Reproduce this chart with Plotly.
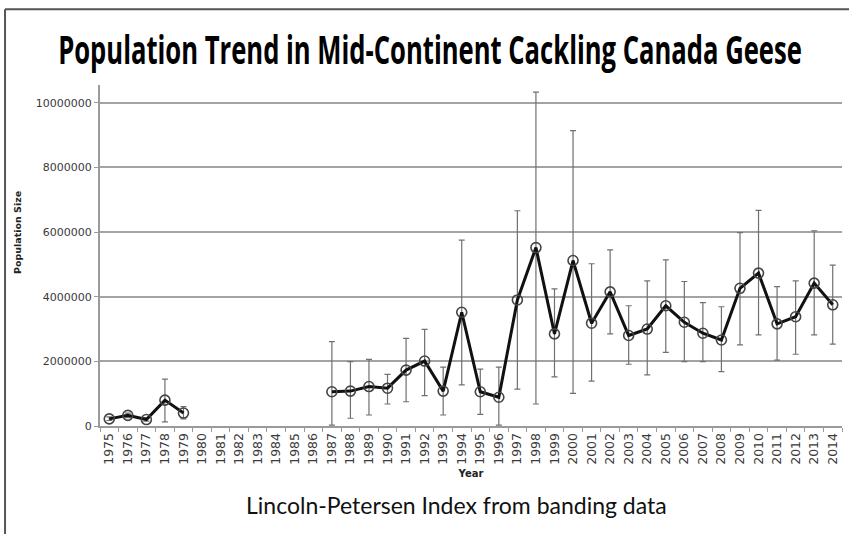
import plotly.graph_objects as go

# Survey years shown on the category axis
years = [str(y) for y in range(1975, 2015)]

# Lincoln-Petersen population estimates (None = no estimate that year)
population = [
    220000, 330000, 200000, 800000, 400000,
    None, None, None, None, None, None, None,
    1060000, 1080000, 1220000, 1170000, 1730000, 2010000, 1080000, 3520000,
    1060000, 890000, 3900000, 5520000, 2850000, 5120000, 3180000, 4150000,
    2800000, 3000000, 3720000, 3210000, 2870000, 2660000, 4260000, 4730000,
    3160000, 3380000, 4420000, 3750000,
]

# Upper and lower confidence limits
upper = [
    280000, 400000, 260000, 1450000, 600000,
    None, None, None, None, None, None, None,
    2610000, 1990000, 2060000, 1600000, 2710000, 2990000, 1820000, 5750000,
    1760000, 1820000, 6660000, 10330000, 4240000, 9140000, 5020000, 5450000,
    3720000, 4490000, 5140000, 4470000, 3820000, 3690000, 5980000, 6670000,
    4310000, 4490000, 6040000, 4980000,
]
lower = [
    170000, 260000, 150000, 130000, 220000,
    None, None, None, None, None, None, None,
    30000, 240000, 340000, 680000, 750000, 940000, 340000, 1270000,
    360000, 30000, 1140000, 680000, 1520000, 1010000, 1390000, 2850000,
    1910000, 1580000, 2280000, 1990000, 1990000, 1680000, 2510000, 2820000,
    2040000, 2220000, 2820000, 2530000,
]

err_plus = [None if p is None else u - p for p, u in zip(population, upper)]
err_minus = [None if p is None else p - l for p, l in zip(population, lower)]

y_ticks = [0, 2000000, 4000000, 6000000, 8000000, 10000000]

fig = go.Figure()
fig.add_trace(go.Scatter(
    x=years,
    y=population,
    mode="lines+markers",
    connectgaps=False,
    line=dict(color="#111111", width=3),
    marker=dict(symbol="circle-open", size=10, color="#444444",
                line=dict(width=1.6, color="#444444")),
    error_y=dict(type="data", symmetric=False, array=err_plus,
                 arrayminus=err_minus, color="#707070", thickness=1.2, width=3),
    showlegend=False,
))

tick_font = dict(family="DejaVu Sans, Verdana, Arial", size=11, color="#3a3a3a")
x_tick_font = dict(family="DejaVu Sans, Verdana, Arial", size=12.5, color="#3a3a3a")

fig.update_layout(
    width=849,
    height=534,
    paper_bgcolor="white",
    plot_bgcolor="white",
    margin=dict(l=100, r=7, t=85, b=108),
    title=dict(
        text="Population Trend in Mid-Continent Cackling Canada Geese",
        font=dict(family="Open Sans, Roboto, Arial", size=40, weight=700, color="#000000"),
        x=430 / 849, xanchor="center", y=1 - 50 / 534, yanchor="middle",
    ),
    xaxis=dict(
        type="category",
        categoryorder="array",
        categoryarray=years,
        tickmode="array",
        tickvals=years,
        ticktext=years,
        tickangle=-90,
        tickfont=x_tick_font,
        tickson="boundaries",
        ticks="outside",
        ticklen=4,
        tickcolor="#9a9a9a",
        showline=True,
        linecolor="#9a9a9a",
        linewidth=2,
        showgrid=False,
        range=[-0.5, len(years) - 0.5],
        title=dict(text="<b>Year</b>", font=dict(family="DejaVu Sans, Arial", size=10, color="#222222"), standoff=6),
    ),
    yaxis=dict(
        range=[0, 10550000],
        tickmode="array",
        tickvals=y_ticks,
        ticktext=[str(v) for v in y_ticks],
        tickfont=tick_font,
        ticks="outside",
        ticklen=4,
        tickcolor="#9a9a9a",
        showline=True,
        linecolor="#9a9a9a",
        linewidth=2,
        showgrid=True,
        gridcolor="#a3a3a3",
        gridwidth=1.5,
        zeroline=False,
    ),
    annotations=[
        dict(
            text="<b>Population Size</b>",
            xref="paper", yref="paper", x=-0.1105, y=0.566,
            xanchor="center", yanchor="middle", textangle=-90, showarrow=False,
            font=dict(family="DejaVu Sans, Arial", size=9.5, color="#222222"),
        ),
        dict(
            text="Lincoln-Petersen Index from banding data",
            xref="paper", yref="paper", x=0.481, y=-0.2317,
            xanchor="center", yanchor="middle", showarrow=False,
            font=dict(family="Lato, Open Sans, Arial", size=23, color="#111111"),
        ),
    ],
    shapes=[
        # outer frame: left and top edges
        dict(type="line", xref="paper", yref="paper", x0=-0.128, x1=-0.128, y0=1.222, y1=-0.33,
             line=dict(color="#555555", width=2)),
        dict(type="line", xref="paper", yref="paper", x0=-0.128, x1=1.02, y0=1.222, y1=1.222,
             line=dict(color="#555555", width=2)),
    ],
)

# The headline is set in a condensed style: scale the title horizontally
# about its centre so it spans 744 px.
condense_title = """
var gd = document.getElementById('{plot_id}');
function condense() {
  var t = gd.querySelector('.gtitle');
  if (!t) return;
  if (t.getAttribute('data-base-transform') === null) {
    t.setAttribute('data-base-transform', t.getAttribute('transform') || '');
  }
  var base = t.getAttribute('data-base-transform');
  t.setAttribute('transform', base);
  var w = t.getBBox().width;
  var cx = parseFloat(t.getAttribute('x')) || 0;
  if (w > 0) {
    var s = 744 / w;
    t.setAttribute('transform', base + ' translate(' + cx + ',0) scale(' + s + ',1) translate(' + (-cx) + ',0)');
  }
}
condense();
gd.on('plotly_afterplot', function () {
  var t = gd.querySelector('.gtitle');
  if (t) t.removeAttribute('data-base-transform');
  condense();
});
"""

fig.write_html("out.html", post_script=condense_title)
